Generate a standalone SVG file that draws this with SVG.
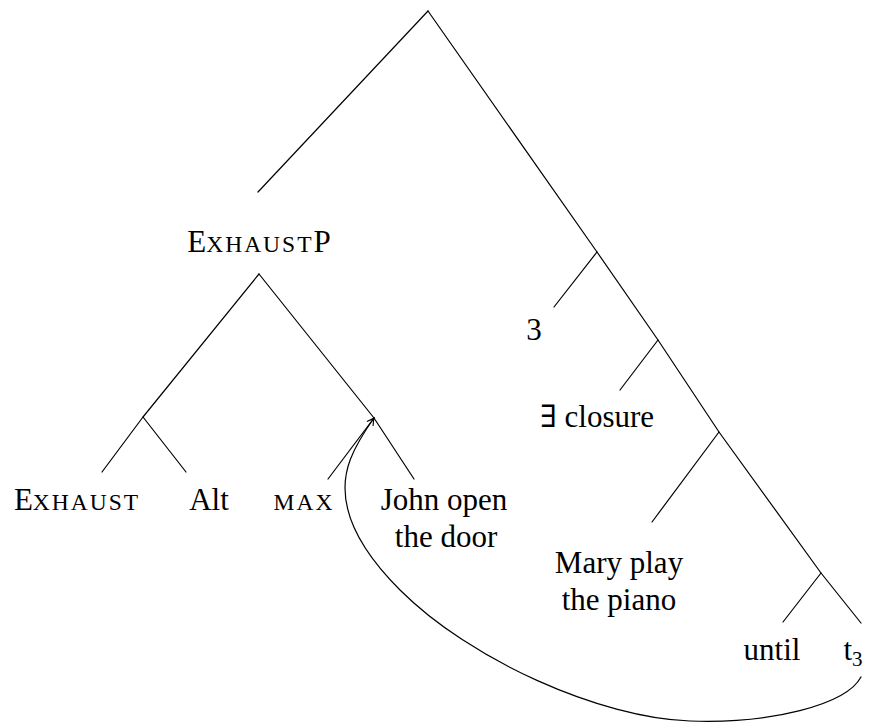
<svg xmlns="http://www.w3.org/2000/svg" width="893" height="722" viewBox="0 0 893 722">
<style>
.e{stroke:#000;stroke-width:1.2;fill:none;stroke-linecap:round;stroke-linejoin:round}
text{font-family:"Liberation Serif","DejaVu Serif",serif;font-size:31px;fill:#000;text-anchor:middle}
.sc{font-size:23.5px;letter-spacing:2px}
.sub{font-size:21px}
</style>
<defs>
<marker id="ah" markerUnits="userSpaceOnUse" markerWidth="12" markerHeight="12" viewBox="-8 -6 10 12" refX="0" refY="0" orient="auto">
<path d="M-7,-3.8 Q-2.5,-1 0,0 Q-2.5,1 -7,3.8" fill="none" stroke="#000" stroke-width="1.1"/>
</marker>
</defs>
<rect width="893" height="722" fill="#fff"/>
<g id="connectors">
<path class="e" d="M428,11 L258,192"/>
<path class="e" d="M428,11 L597,252 L658,340 L719,432 L821,573 L861,623"/>
<path class="e" d="M597,252 L554,307"/>
<path class="e" d="M658,340 L620,390"/>
<path class="e" d="M719,432 L652,522"/>
<path class="e" d="M821,573 L783,622"/>
<path class="e" d="M259,274 L143,417 L102,472"/>
<path class="e" d="M143,417 L186,472"/>
<path class="e" d="M259,274 L374,418 L414,479"/>
<path class="e" d="M374,418 L328,479"/>
<path class="e" marker-end="url(#ah)" d="M861,677 C846,705 770,724 690,721 C600,718 470,660 400,590 C370,560 345,525 345,488 C345,470 350,452 374,418"/>
</g>
<g id="n-exhaustp"><text x="259" y="252">E<tspan class="sc">XHAUST</tspan>P</text></g>
<g id="n-exhaust"><text x="77" y="510">E<tspan class="sc">XHAUST</tspan></text></g>
<g id="n-alt"><text x="209" y="510">Alt</text></g>
<g id="n-max"><text x="304" y="510" class="sc">MAX</text></g>
<g id="n-john"><text x="444" y="510">John open</text><text x="446" y="547">the door</text></g>
<g id="n-3"><text x="534" y="340">3</text></g>
<g id="n-closure"><text x="597" y="427">∃ closure</text></g>
<g id="n-mary"><text x="619" y="573">Mary play</text><text x="619" y="610">the piano</text></g>
<g id="n-until"><text x="772" y="660">until</text></g>
<g id="n-t3"><text x="853" y="660">t<tspan class="sub" dy="6">3</tspan></text></g>
</svg>
